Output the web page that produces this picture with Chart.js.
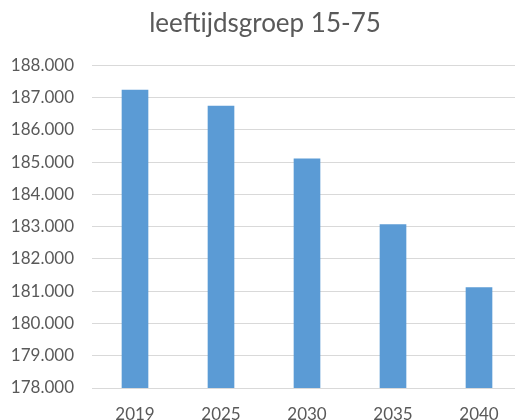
<!DOCTYPE html>
<html>
<head>
<meta charset="utf-8">
<script src="https://cdn.jsdelivr.net/npm/chart.js@4"></script>
<style>
  html, body { margin: 0; padding: 0; overflow: hidden; background: #fff; }
  #wrap { width: 540px; height: 420px; }
</style>
</head>
<body>
<div id="wrap"><canvas id="chart" width="540" height="420"></canvas></div>
<script>
// leeftijdsgroep 15-75, aantal personen per jaar
const years = ['2019', '2025', '2030', '2035', '2040'];
const persons = [187240, 186740, 185110, 183070, 181120];
const yMin = 178000;
const yMax = 188000;
const yStep = 1000;

// 188000 -> "188.000"
function formatNl(v) {
    return String(Math.round(v)).replace(/\B(?=(\d{3})+(?!\d))/g, '.');
}

const ctx = document.getElementById('chart');
const chart = new Chart(ctx, {
    type: 'bar',
    data: {
        labels: years,
        datasets: [{
            label: 'leeftijdsgroep 15-75',
            data: persons,
            backgroundColor: '#5B9BD5',
            borderWidth: 0,
            categoryPercentage: 1,
            barPercentage: 0.31
        }]
    },
    options: {
        responsive: false,
        animation: false,
        layout: { padding: { left: 8, right: 18, top: 0, bottom: 0 } },
        plugins: {
            legend: { display: false },
            tooltip: { enabled: false },
            title: {
                display: true,
                text: 'leeftijdsgroep 15-75',
                color: '#595959',
                font: { family: 'Lato', size: 26, weight: 'normal' },
                padding: { top: 8, bottom: 26 }
            }
        },
        scales: {
            x: {
                grid: { display: false },
                border: { display: false },
                ticks: {
                    color: '#595959',
                    font: { family: 'Lato', size: 17 },
                    padding: 8
                },
                afterFit(scale) { scale.height = 32; }
            },
            y: {
                min: yMin,
                max: yMax,
                grid: { color: '#D9D9D9', lineWidth: 1, drawTicks: false },
                border: { display: false },
                ticks: {
                    stepSize: yStep,
                    color: '#595959',
                    font: { family: 'Lato', size: 17 },
                    padding: 18,
                    callback: v => formatNl(v)
                },
                afterFit(scale) { scale.width = 84; }
            }
        }
    }
});
</script>
</body>
</html>
